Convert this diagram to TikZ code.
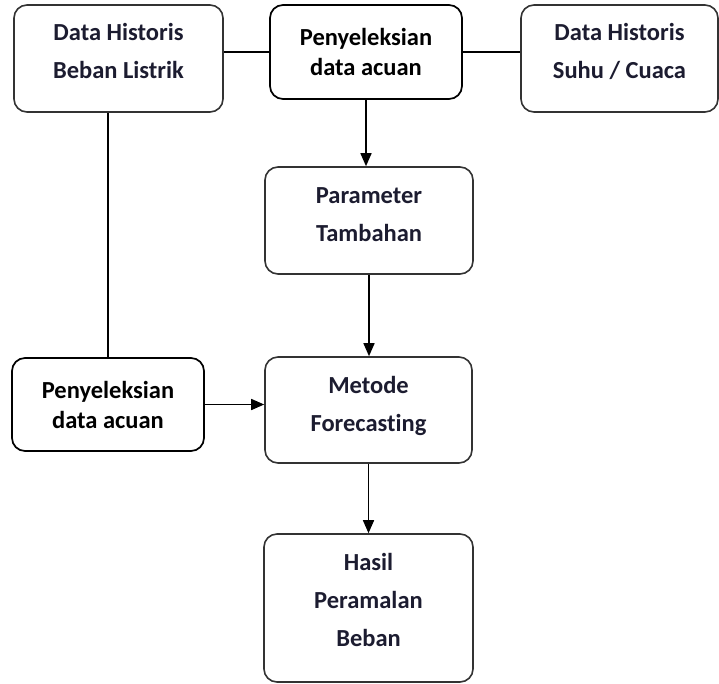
\documentclass[tikz,border=0pt]{standalone}
\usepackage{fontspec}
\setmainfont{Carlito}[Ligatures=NoCommon]
\usepackage{tikz}
\usetikzlibrary{arrows.meta,positioning,calc}

\definecolor{txtdark}{HTML}{1C1C30}
\definecolor{linegray}{HTML}{333333}

\begin{document}
\begin{tikzpicture}[x=1pt,y=-1pt,
  box/.style={draw=linegray, line width=1.6pt, rectangle, rounded corners=13pt,
    align=center, font=\fontsize{24.5}{38}\selectfont\bfseries, text=txtdark, inner sep=0pt},
  selbox/.style={box, draw=black, line width=1.7pt, text=black,
    font=\fontsize{24.5}{30}\selectfont\bfseries},
  link/.style={draw=black, line width=1.5pt},
  flow/.style={link, -{Triangle[length=13pt,width=11pt]}}]
\useasboundingbox (0,0) rectangle (719,683);

% Top row
\node[box, minimum width=209pt, minimum height=107pt] (beban) at (118.5,58.5) {Data Historis\\Beban Listrik\\[-22pt]\mbox{}};
\node[selbox, minimum width=192pt, minimum height=94pt] (seltop) at (366,52) {Penyeleksian\\data acuan};
\node[box, minimum width=197pt, minimum height=107pt] (suhu) at (619.5,58.5) {Data Historis\\Suhu / Cuaca\\[-22pt]\mbox{}};

% Middle column
\node[box, minimum width=208pt, minimum height=107pt] (param) at (369,220.5) {Parameter\\Tambahan\\[-26pt]\mbox{}};
\node[box, minimum width=207pt, minimum height=106pt] (metode) at (368.5,410) {Metode\\Forecasting\\[-26pt]\mbox{}};
\node[box, minimum width=209pt, minimum height=148pt] (hasil) at (368.5,608) {Hasil\\Peramalan\\Beban\\[-22pt]\mbox{}};

% Left selection
\node[selbox, minimum width=192pt, minimum height=93pt] (selleft) at (108,404.5) {Penyeleksian\\data acuan};

% Connections
\draw[link] (seltop.west) -- (seltop.west -| beban.east);
\draw[link] (seltop.east) -- (seltop.east -| suhu.west);
\draw[link] (selleft.north) -- (selleft.north |- beban.south);
\draw[flow] (seltop.south) -- (seltop.south |- param.north);
\draw[flow] (param.south) -- (param.south |- metode.north);
\draw[flow] (selleft.east) -- (selleft.east -| metode.west);
\draw[flow] (metode.south) -- (metode.south |- hasil.north);

\end{tikzpicture}
\end{document}
